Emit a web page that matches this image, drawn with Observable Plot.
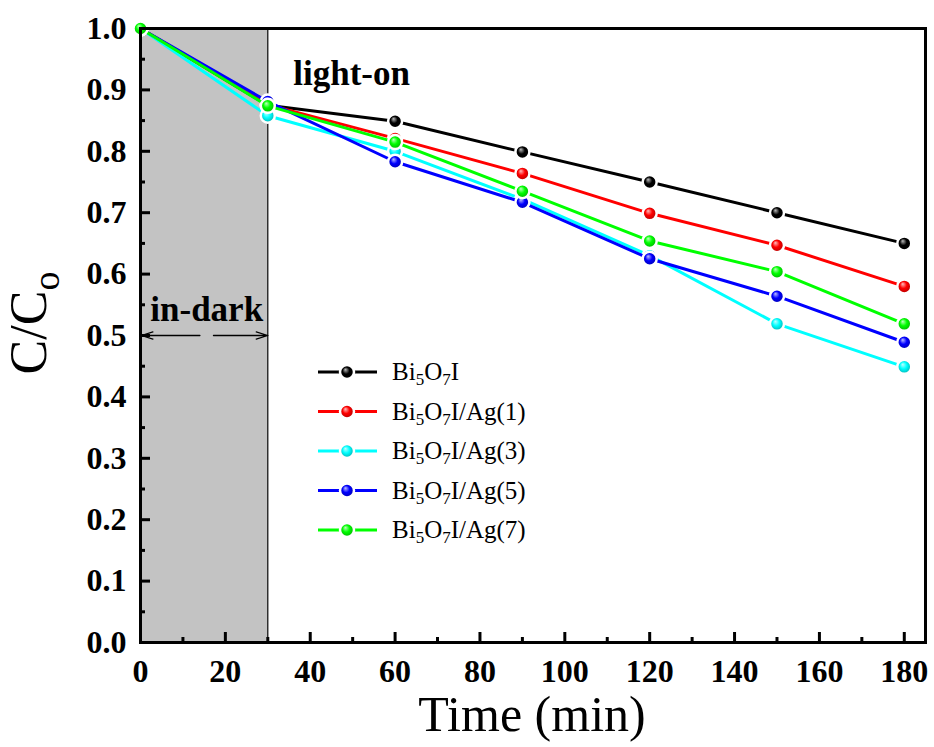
<!DOCTYPE html>
<html><head><meta charset="utf-8">
<script src="https://cdn.jsdelivr.net/npm/d3@7"></script>
<script src="https://cdn.jsdelivr.net/npm/@observablehq/plot@0.6"></script>
<style>
body{margin:0;background:#fff}
</style>
</head><body><div id="chart"></div>
<script>
// ---- data ----
const time = [0, 30, 60, 90, 120, 150, 180];
const seriesSuffix = ["", "/Ag(1)", "/Ag(3)", "/Ag(5)", "/Ag(7)"];
const seriesKeys = ["Bi5O7I", "Bi5O7I/Ag(1)", "Bi5O7I/Ag(3)", "Bi5O7I/Ag(5)", "Bi5O7I/Ag(7)"];
const bi5o7i = [1.0, 0.875, 0.849, 0.799, 0.750, 0.700, 0.650];
const ag1    = [1.0, 0.876, 0.821, 0.764, 0.699, 0.647, 0.580];
const ag3    = [1.0, 0.858, 0.800, 0.722, 0.630, 0.519, 0.449];
const ag5    = [1.0, 0.881, 0.783, 0.717, 0.625, 0.564, 0.489];
const ag7    = [1.0, 0.874, 0.815, 0.735, 0.654, 0.604, 0.519];
const seriesValues = [bi5o7i, ag1, ag3, ag5, ag7];
const colors = ["#000000", "#ff0000", "#00ffff", "#0000ff", "#00ff00"];
const xMajor = [0, 20, 40, 60, 80, 100, 120, 140, 160, 180];
const xMinor = [10, 30, 50, 70, 90, 110, 130, 150, 170];
const yMajor = [0.0, 0.1, 0.2, 0.3, 0.4, 0.5, 0.6, 0.7, 0.8, 0.9, 1.0];
const yMinor = [0.05, 0.15, 0.25, 0.35, 0.45, 0.55, 0.65, 0.75, 0.85, 0.95];
const darkPeriod = [{x1: 0, x2: 30}];
const darkEnd = [30];
const lightLabel = [{x: 36, y: 0.927, text: "light-on"}];
const darkLabel = [{x: 15.6, y: 0.542, text: "in-dark"}];
const darkArrows = [
  {x1: 14.0, x2: 0.2, y: 0.5},
  {x1: 17.2, x2: 30, y: 0.5}
];

const FONT = "Liberation Serif";

const rows = [];
seriesKeys.forEach((k, i) => time.forEach((t, j) => rows.push({series: k, idx: i, t, v: seriesValues[i][j]})));

const seriesMarks = [];
seriesKeys.forEach((k, i) => {
  const d = rows.filter(r => r.idx === i);
  seriesMarks.push(Plot.line(d, {x: "t", y: "v", stroke: colors[i], strokeWidth: 3}));
  seriesMarks.push(Plot.dot(d, {x: "t", y: "v", r: 7, fill: `url(#ball${i})`, stroke: "white", strokeWidth: 2.5}));
});

const plot = Plot.plot({
  width: 934,
  height: 747,
  marginLeft: 140,
  marginRight: 9,
  marginTop: 28,
  marginBottom: 105,
  style: {background: "white", color: "black", fontFamily: FONT},
  x: {domain: [0, 185]},
  y: {domain: [0, 1]},
  marks: [
    Plot.rectY(darkPeriod, {x1: "x1", x2: "x2", y1: 0, y2: 1, fill: "#c3c3c3"}),
    Plot.ruleX(darkEnd, {stroke: "black", strokeWidth: 1.2}),
    ...seriesMarks,
    Plot.text(lightLabel, {x: "x", y: "y", text: "text", textAnchor: "start", fontFamily: FONT, fontSize: 35, fontWeight: "bold", fill: "black"}),
    Plot.text(darkLabel, {x: "x", y: "y", text: "text", textAnchor: "middle", fontFamily: FONT, fontSize: 35, fontWeight: "bold", fill: "black"}),
    Plot.arrow(darkArrows, {x1: "x1", x2: "x2", y1: "y", y2: "y", stroke: "black", strokeWidth: 1.3, headLength: 14, headAngle: 35}),
    Plot.axisX({ticks: xMajor, tickSize: -10, tickFormat: () => "", strokeWidth: 3, label: null}),
    Plot.axisX({ticks: xMinor, tickSize: -5, tickFormat: () => "", strokeWidth: 3, label: null}),
    Plot.axisX({ticks: xMajor, tickSize: 0, tickPadding: 17, fontFamily: FONT, fontSize: 32, fontWeight: "bold", label: null}),
    Plot.axisY({ticks: yMajor, tickSize: -10, tickFormat: () => "", strokeWidth: 3, label: null}),
    Plot.axisY({ticks: yMinor, tickSize: -5, tickFormat: () => "", strokeWidth: 3, label: null}),
    Plot.axisY({ticks: yMajor, tickSize: 0, tickPadding: 14, tickFormat: d3.format(".1f"), fontFamily: FONT, fontSize: 32, fontWeight: "bold", label: null}),
    Plot.frame({stroke: "black", strokeWidth: 3})
  ]
});

const svg = d3.select(plot);
svg.selectAll("text").attr("font-family", FONT);
// shaded ball gradients
const defs = svg.insert("defs", ":first-child");
colors.forEach((c, i) => {
  const g = defs.append("radialGradient").attr("id", `ball${i}`)
    .attr("cx", "50%").attr("cy", "50%").attr("r", "55%").attr("fx", "38%").attr("fy", "32%");
  g.append("stop").attr("offset", "0%").attr("stop-color", d3.interpolateRgb(c, "#ffffff")(0.75));
  g.append("stop").attr("offset", "45%").attr("stop-color", c);
  g.append("stop").attr("offset", "100%").attr("stop-color", d3.interpolateRgb(c, "#000000")(0.35));
});

// axis titles
svg.append("text").attr("x", 532).attr("y", 731).attr("text-anchor", "middle")
  .attr("font-family", FONT).attr("font-size", 50).attr("fill", "black").text("Time (min)");
const yt = svg.append("text").attr("transform", "translate(46,323) rotate(-90)")
  .attr("text-anchor", "middle").attr("font-family", FONT).attr("font-size", 52).attr("fill", "black");
yt.append("tspan").text("C/C");
yt.append("tspan").attr("dy", 13).attr("font-size", 38).text("o");

// legend
const leg = svg.append("g").attr("font-family", FONT).attr("text-anchor", "start");
seriesKeys.forEach((k, i) => {
  const yy = 372 + i * 39.5;
  leg.append("line").attr("x1", 318).attr("x2", 377).attr("y1", yy).attr("y2", yy)
    .attr("stroke", colors[i]).attr("stroke-width", 3);
  leg.append("circle").attr("cx", 347).attr("cy", yy).attr("r", 7)
    .attr("fill", `url(#ball${i})`).attr("stroke", "white").attr("stroke-width", 2.5);
  const t = leg.append("text").attr("x", 392).attr("y", yy + 8).attr("font-size", 25)
    .attr("text-anchor", "start").attr("fill", "black");
  t.append("tspan").text("Bi");
  t.append("tspan").attr("dy", 5).attr("font-size", 17).text("5");
  t.append("tspan").attr("dy", -5).text("O");
  t.append("tspan").attr("dy", 5).attr("font-size", 17).text("7");
  t.append("tspan").attr("dy", -5).text("I" + seriesSuffix[i]);
});

document.getElementById("chart").append(plot);
</script>
</body></html>
